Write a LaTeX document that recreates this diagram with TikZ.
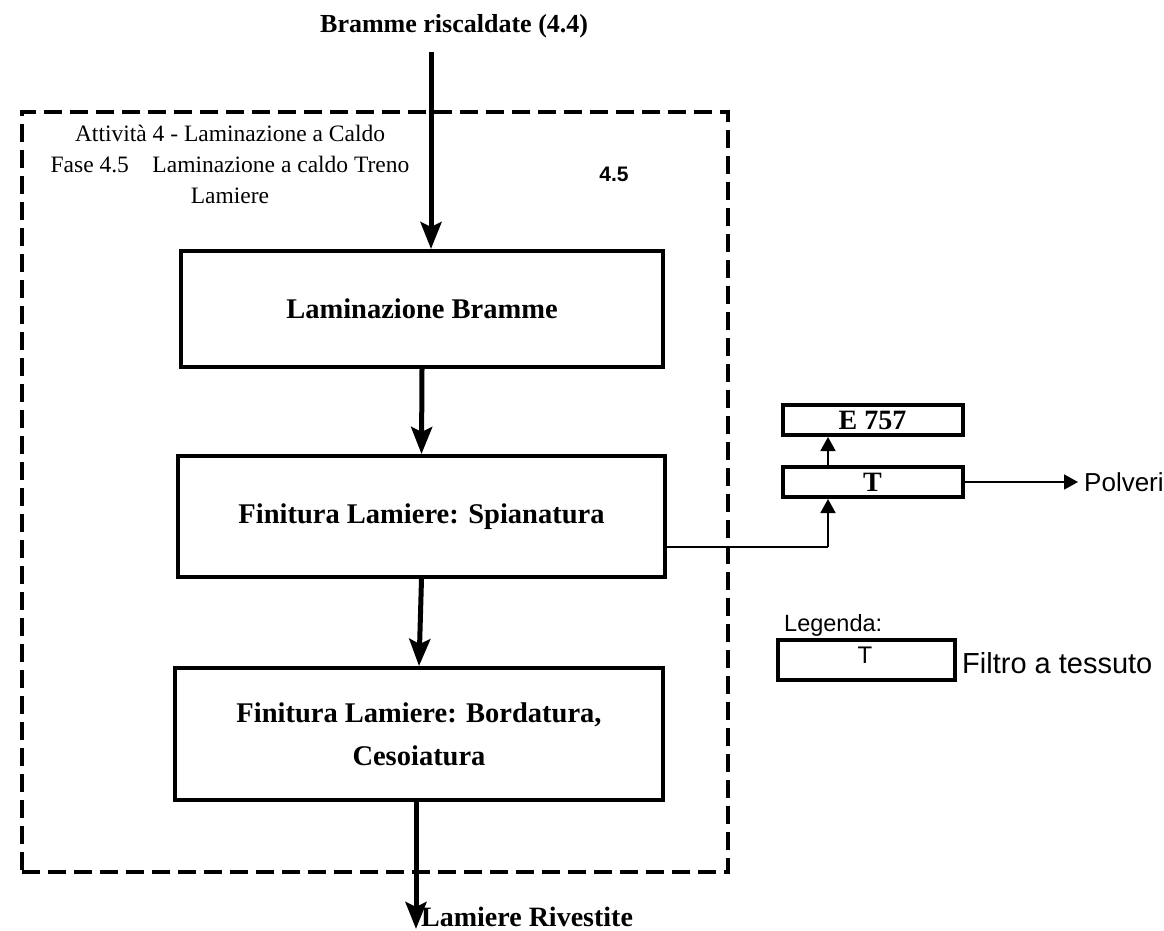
\documentclass[tikz,border=0pt]{standalone}
\usepackage{fontspec}
\setmainfont{Liberation Serif}
\setsansfont{Liberation Sans}
\usetikzlibrary{arrows.meta}

\begin{document}
\begin{tikzpicture}[x=1pt,y=-1pt,
  phase/.style={draw,line width=4pt,dash pattern=on 18pt off 8pt,inner sep=0pt},
  procbox/.style={draw,line width=4pt,inner sep=0pt,align=center,
    font=\bfseries\fontsize{28.5}{43}\selectfont},
  smallbox/.style={draw,line width=4pt,inner sep=0pt,minimum width=180pt,minimum height=30pt,
    font=\bfseries\fontsize{28}{28}\selectfont},
  flow/.style={line width=5pt,-{Stealth[length=27pt,width=21pt,inset=5pt]}},
  thinflow/.style={line width=1.8pt,-{Triangle[length=14pt,width=15pt]}},
  sanslabel/.style={font=\sffamily\fontsize{#1}{#1}\selectfont,inner sep=0pt},
]
\useasboundingbox (0,0) rectangle (1164,931);

% phase boundary
\node[phase,minimum width=706pt,minimum height=760pt] (fase) at (375,492) {};

% phase caption and number
\node[font=\fontsize{23.5}{31}\selectfont,align=center,inner sep=0pt] (hdr) at (230,164)
  {Attività 4 - Laminazione a Caldo\\Fase 4.5\quad Laminazione a caldo Treno\\Lamiere};
\node[font=\sffamily\bfseries\fontsize{21}{21}\selectfont,inner sep=0pt] (num) at (614,174) {4.5};

% input and output
\node[font=\bfseries\fontsize{26}{26}\selectfont,inner sep=0pt,anchor=base west] (in) at (320,33)
  {Bramme riscaldate (4.4)};
\coordinate (src) at (431,52);
\node[font=\bfseries\fontsize{28}{28}\selectfont,inner sep=0pt,anchor=base west] (outl) at (421,926)
  {Lamiere Rivestite};
\coordinate (dst) at (416,929);

% process steps
\node[procbox,minimum width=482pt,minimum height=116pt] (lam) at (422,309) {Laminazione Bramme};
\node[procbox,minimum width=487pt,minimum height=121pt] (spi) at (421.5,516.5)
  {\raisebox{-6pt}{Finitura Lamiere: Spianatura}};
\node[procbox,minimum width=488pt,minimum height=132pt] (bor) at (419,734)
  {Finitura Lamiere: Bordatura,\\Cesoiatura};

% main flow
\draw[flow] (src) -- (src |- lam.north);
\draw[flow] (lam.south) -- (spi.north);
\draw[flow] (spi.south) -- (bor.north);
\draw[flow] (bor.south -| dst) -- (dst);

% abatement line
\node[smallbox] (tf) at (872.5,482) {T};
\node[smallbox] (emis) at (872.5,420) {E 757};
\coordinate (j) at (828,547);
\draw[line width=1.8pt] (spi.east |- j) -- (j);
\draw[thinflow] (j) -- (j |- tf.south);
\draw[thinflow] (j |- tf.north) -- (j |- emis.south);
\node[sanslabel=26,anchor=west] (polv) at (1084,482) {Polveri};
\draw[thinflow,shorten >=6pt] (tf.east) -- (polv.west);

% legend
\node[sanslabel=23.5,anchor=west] (leg) at (784,625) {Legenda:};
\node[draw,line width=4pt,minimum width=177pt,minimum height=40pt,inner sep=0pt] (legbox) at (866.5,660) {};
\node[sanslabel=24] (legT) at (865,655) {T};
\node[sanslabel=29,anchor=west] (legtxt) at (962,663) {Filtro a tessuto};
\end{tikzpicture}
\end{document}
